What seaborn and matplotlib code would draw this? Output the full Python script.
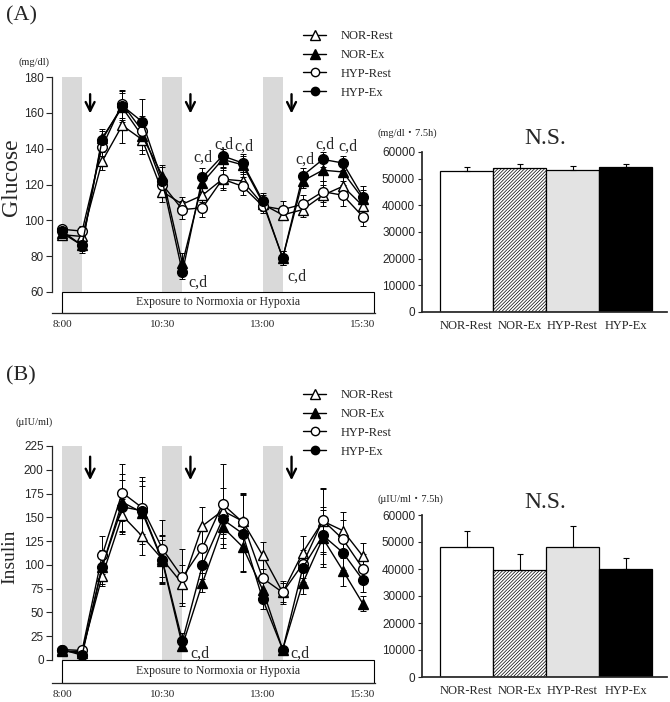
import matplotlib
matplotlib.use('Agg')
import matplotlib.pyplot as plt
import matplotlib.transforms as mtransforms
from matplotlib.lines import Line2D
from matplotlib.patches import Rectangle
from matplotlib.ticker import MultipleLocator
import seaborn as sns
import pandas as pd

sns.set_theme(style="ticks")
plt.rcParams['font.family'] = ['Liberation Serif', 'Noto Sans CJK JP']
plt.rcParams['hatch.linewidth'] = 0.5

# ---- data ----
times = [8.0, 8.5, 9.0, 9.5, 10.0, 10.5, 11.0, 11.5, 12.0, 12.5, 13.0, 13.5, 14.0, 14.5, 15.0, 15.5]
time_ticks = [8.0, 10.5, 13.0, 15.5]
time_labels = ['8:00', '10:30', '13:00', '15:30']
groups = ['NOR-Rest', 'NOR-Ex', 'HYP-Rest', 'HYP-Ex']

glu_nor_rest = [92, 91, 133, 153, 145, 116, 109, 114, 123, 122, 109, 103, 106, 114, 119, 108]
glu_nor_ex = [93, 86, 146, 163, 147, 125, 76, 121, 134, 131, 110, 79, 122, 128, 127, 112]
glu_hyp_rest = [95, 94, 141, 165, 150, 120, 106, 107, 123, 119, 108, 106, 109, 116, 114, 102]
glu_hyp_ex = [94, 86, 145, 164, 155, 122, 71, 124, 136, 132, 111, 79, 125, 134, 132, 113]

glu_nor_rest_se = [2, 3, 5, 10, 8, 6, 4, 4, 5, 5, 4, 3, 4, 6, 6, 5]
glu_nor_ex_se = [2, 3, 5, 8, 8, 6, 6, 5, 4, 5, 4, 4, 4, 6, 5, 5]
glu_hyp_rest_se = [2, 3, 5, 8, 8, 5, 5, 5, 6, 5, 4, 5, 5, 6, 6, 5]
glu_hyp_ex_se = [2, 4, 5, 8, 13, 8, 4, 5, 4, 5, 4, 4, 4, 4, 4, 6]

ins_nor_rest = [9, 9, 88, 152, 130, 106, 80, 141, 157, 146, 110, 71, 113, 146, 136, 109]
ins_nor_ex = [10, 7, 98, 166, 155, 104, 15, 81, 140, 119, 74, 11, 81, 128, 94, 59]
ins_hyp_rest = [11, 10, 110, 176, 160, 117, 87, 118, 164, 145, 86, 71, 101, 147, 127, 96]
ins_hyp_ex = [11, 5, 98, 161, 157, 105, 20, 100, 148, 133, 64, 11, 97, 131, 113, 84]

ins_nor_rest_se = [2, 2, 10, 17, 20, 25, 20, 20, 24, 30, 14, 10, 17, 35, 20, 14]
ins_nor_ex_se = [2, 2, 12, 30, 28, 22, 5, 10, 22, 25, 12, 3, 12, 30, 16, 8]
ins_hyp_rest_se = [2, 2, 20, 30, 28, 30, 30, 18, 42, 30, 20, 12, 15, 33, 20, 15]
ins_hyp_ex_se = [2, 2, 18, 28, 35, 25, 8, 15, 20, 40, 10, 3, 15, 30, 18, 12]

glu_auc = [52700, 54000, 53200, 54300]
glu_auc_se = [1500, 1600, 1700, 1300]
ins_auc = [48300, 39600, 48100, 40000]
ins_auc_se = [5800, 5800, 7800, 4000]

marker_style = {'NOR-Rest': ('^', 'white', 7.5), 'NOR-Ex': ('^', 'black', 7.5),
                'HYP-Rest': ('o', 'white', 7), 'HYP-Ex': ('o', 'black', 7)}
bar_colors = {'NOR-Rest': 'white', 'NOR-Ex': 'white', 'HYP-Rest': '#e3e3e3', 'HYP-Ex': 'black'}

W, H = 670, 702
fig = plt.figure(figsize=(W / 100, H / 100), dpi=100)


def px_rect(l, t, r, b):
    return [l / W, 1 - b / H, (r - l) / W, (b - t) / H]


def line_panel(rect, series, errors, ylim, ystep, box_px, cd_marks, arrow_y):
    ax = fig.add_axes(px_rect(*rect))
    trans = mtransforms.blended_transform_factory(ax.transData, ax.transAxes)
    for s in [8.0, 10.5, 13.0]:
        ax.axvspan(s, s + 0.5, color='#d9d9d9', lw=0, zorder=0)
    for g, vals, err in zip(groups, series, errors):
        m, face, ms = marker_style[g]
        ax.errorbar(times, vals, yerr=err, fmt='none', ecolor='black',
                    elinewidth=0.7, capsize=2, capthick=0.7, zorder=2)
        sns.lineplot(x=times, y=vals, ax=ax, color='black', lw=1, marker=m,
                     markersize=ms, markerfacecolor=face, markeredgecolor='black',
                     markeredgewidth=1, zorder=3)
    for xa in [8.7, 11.2, 13.72]:
        ax.annotate('', xy=(xa, arrow_y[1]), xytext=(xa, arrow_y[0]),
                    xycoords=trans, textcoords=trans,
                    arrowprops=dict(arrowstyle='->', lw=1.7, color='black',
                                    mutation_scale=16, shrinkA=0, shrinkB=0))
    for xc, yc in cd_marks:
        ax.text(xc, yc, 'c,d', ha='center', va='center', fontsize=11.5)
    box_h = box_px / (rect[3] - rect[1])
    ax.add_patch(Rectangle((8.0, -box_h), 7.78, box_h, transform=trans,
                           facecolor='white', edgecolor='black', lw=0.8, clip_on=False))
    ax.text(11.9, -box_h / 2, 'Exposure to Normoxia or Hypoxia', transform=trans,
            ha='center', va='center', fontsize=8.5)
    ax.set_xlim(7.75, 15.8)
    ax.set_ylim(*ylim)
    ax.yaxis.set_major_locator(MultipleLocator(ystep))
    ax.set_xticks(time_ticks)
    ax.set_xticklabels(time_labels)
    ax.xaxis.set_minor_locator(MultipleLocator(0.5))
    ax.spines['top'].set_visible(False)
    ax.spines['right'].set_visible(False)
    ax.spines['bottom'].set_position(('outward', box_px * 0.72))
    ax.spines['left'].set_linewidth(0.9)
    ax.spines['bottom'].set_linewidth(0.9)
    ax.tick_params(axis='x', which='both', direction='in', length=3, width=0.8,
                   labelsize=8, pad=5)
    ax.tick_params(axis='y', direction='out', length=4, width=0.8, labelsize=8.5, pad=2)
    for lab in ax.get_yticklabels():
        lab.set_family('Liberation Sans')
    ax.set_xlabel('')
    ax.set_ylabel('')
    return ax


def bar_panel(rect, vals, err):
    ax = fig.add_axes(px_rect(*rect))
    df = pd.DataFrame({'group': groups, 'auc': vals})
    sns.barplot(data=df, x='group', y='auc', hue='group', palette=bar_colors,
                legend=False, width=1.0, edgecolor='black', linewidth=0.9,
                errorbar=None, ax=ax)
    ax.patches[1].set_hatch('//////////')
    ax.errorbar(range(len(groups)), vals, yerr=[[0] * len(err), err], fmt='none',
                ecolor='black', elinewidth=0.8, capsize=2.5, capthick=0.8)
    ax.set_xlim(-0.84, 3.78)
    ax.set_ylim(0, 60000)
    ax.yaxis.set_major_locator(MultipleLocator(10000))
    ax.spines['top'].set_visible(False)
    ax.spines['right'].set_visible(False)
    ax.tick_params(axis='x', length=0, labelsize=9, pad=6)
    ax.tick_params(axis='y', direction='out', length=3, width=0.8, labelsize=8.5, pad=2)
    for lab in ax.get_yticklabels():
        lab.set_family('Liberation Sans')
    ax.set_xlabel('')
    ax.set_ylabel('')
    return ax


def add_legend(top_px):
    handles = []
    for g in groups:
        m, face, ms = marker_style[g]
        handles.append(Line2D([], [], color='black', lw=1, marker=m, markersize=ms - 1,
                              markerfacecolor=face, markeredgecolor='black'))
    fig.legend(handles, groups, loc='upper left', bbox_to_anchor=(303 / W, 1 - top_px / H),
               frameon=False, prop={'family': 'Liberation Serif', 'size': 9},
               handlelength=1.85, handletextpad=1.2, labelspacing=0.55,
               borderpad=0, borderaxespad=0)


# ---- panel A ----
line_panel((52, 77, 375, 292),
           [glu_nor_rest, glu_nor_ex, glu_hyp_rest, glu_hyp_ex],
           [glu_nor_rest_se, glu_nor_ex_se, glu_hyp_rest_se, glu_hyp_ex_se],
           (60, 180), 20, 20.7,
           [(11.39, 65), (11.52, 135), (12.03, 142), (12.54, 141), (13.85, 68.7),
            (14.06, 134), (14.56, 142.4), (15.13, 141)],
           (0.92, 0.83))
bar_panel((422, 152, 667, 312), glu_auc, glu_auc_se)
add_legend(30)
fig.text(6 / W, 1 - 16 / H, '(A)', fontsize=16, va='center', ha='left')
fig.text(11 / W, 1 - 177 / H, 'Glucose', rotation=90, fontsize=17, va='center', ha='center')
fig.text(34 / W, 1 - 62 / H, '(mg/dl)', fontsize=7.5, va='center', ha='center')
fig.text(545 / W, 1 - 138 / H, 'N.S.', fontsize=17, va='center', ha='center')
fig.text(407 / W, 1 - 133 / H, '(mg/dl・7.5h)', fontsize=7.5, va='center', ha='center')

# ---- panel B ----
line_panel((52, 446, 375, 660),
           [ins_nor_rest, ins_nor_ex, ins_hyp_rest, ins_hyp_ex],
           [ins_nor_rest_se, ins_nor_ex_se, ins_hyp_rest_se, ins_hyp_ex_se],
           (0, 225), 25, 22.7,
           [(11.43, 7), (13.92, 7)],
           (0.95, 0.84))
bar_panel((422, 515, 667, 677), ins_auc, ins_auc_se)
add_legend(389)
fig.text(6 / W, 1 - 376 / H, '(B)', fontsize=16, va='center', ha='left')
fig.text(10 / W, 1 - 557 / H, 'Insulin', rotation=90, fontsize=14, va='center', ha='center')
fig.text(34 / W, 1 - 422 / H, '(µIU/ml)', fontsize=7.5, va='center', ha='center')
fig.text(545 / W, 1 - 503 / H, 'N.S.', fontsize=17, va='center', ha='center')
fig.text(410 / W, 1 - 499 / H, '(µIU/ml・7.5h)', fontsize=7.5, va='center', ha='center')

fig.savefig('out.png', dpi=100)
